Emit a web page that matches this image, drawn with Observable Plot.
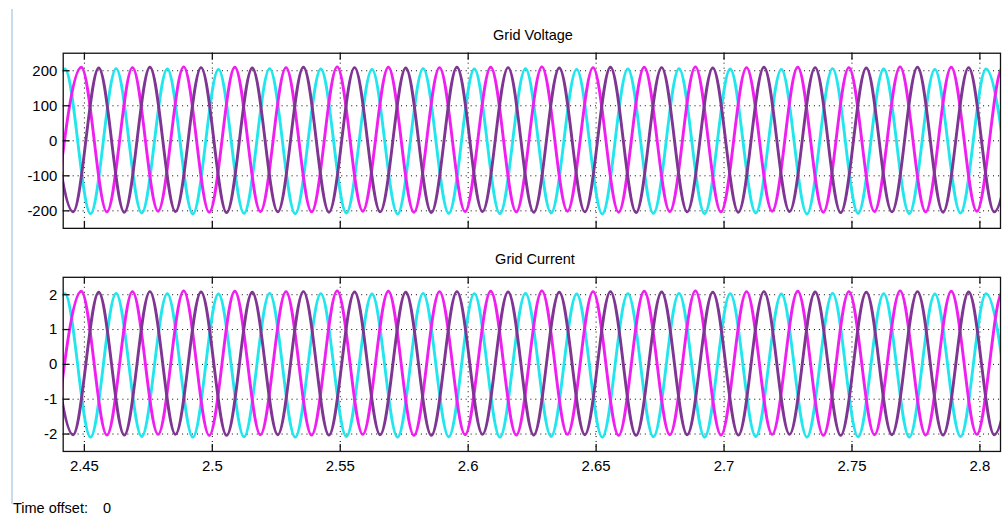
<!DOCTYPE html>
<html>
<head>
<meta charset="utf-8">
<script src="https://cdn.jsdelivr.net/npm/d3@7"></script>
<script src="https://cdn.jsdelivr.net/npm/@observablehq/plot@0.6"></script>
<style>
  html, body { margin: 0; padding: 0; background: #fff; overflow: hidden; }
  #wrap { position: relative; width: 1005px; height: 520px; overflow: hidden; background: #fff;
          font-family: "Liberation Sans", Arial, sans-serif; color: #000; }
  .panel { position: absolute; left: 0; z-index: 1; }
  .title { position: absolute; z-index: 2; font-size: 14.5px; line-height: 16px; transform: translateX(-50%); white-space: nowrap; }
  #edge { position: absolute; z-index: 2; left: 11px; top: 9px; width: 2px; height: 495px; background: #c9dcef; }
  #offset { position: absolute; z-index: 2; left: 13px; top: 500px; font-size: 14.5px; line-height: 16px; white-space: nowrap; }
</style>
</head>
<body>
<div id="wrap">
  <div id="p1" class="panel" style="top:0px;"></div>
  <div id="p2" class="panel" style="top:240px;"></div>
  <div id="edge"></div>
  <div class="title" style="left:533px; top:27px;">Grid Voltage</div>
  <div class="title" style="left:535px; top:251px;">Grid Current</div>
  <div id="offset">Time offset:<span style="margin-left:15px;">0</span></div>
</div>
<script>
// ---- data ----
const phaseNames = ["b (cyan)", "c (magenta)", "a (purple)"];
const phaseColors = ["#22e6ee", "#f01ef0", "#7f3592"];

const xTicks = [2.45, 2.5, 2.55, 2.6, 2.65, 2.7, 2.75, 2.8];
const xTickLabels = ["2.45", "2.5", "2.55", "2.6", "2.65", "2.7", "2.75", "2.8"];
const voltTicks = [-200, -100, 0, 100, 200];
const voltTickLabels = ["-200", "-100", "0", "100", "200"];
const currTicks = [-2, -1, 0, 1, 2];
const currTickLabels = ["-2", "-1", "0", "1", "2"];

// times of successive peaks / troughs of each phase (s)
const purpleT = [2.4356,2.4456,2.4556,2.4656,2.4756,2.4856,2.4956,2.5056,2.5156,2.5256,
  2.5356,2.5456,2.5556,2.5656,2.5756,2.5856,2.5956,2.6056,2.6156,2.6256,
  2.6356,2.6456,2.6556,2.6656,2.6756,2.6856,2.6956,2.7056,2.7156,2.7256,
  2.7356,2.7456,2.7556,2.7656,2.7756,2.7856,2.7956,2.8056,2.8156];
const cyanT = [2.4324,2.4424,2.4524,2.4624,2.4724,2.4824,2.4924,2.5024,2.5124,2.5224,
  2.5324,2.5424,2.5524,2.5624,2.5724,2.5824,2.5924,2.6024,2.6124,2.6224,
  2.6324,2.6424,2.6524,2.6624,2.6724,2.6824,2.6924,2.7024,2.7124,2.7224,
  2.7324,2.7424,2.7524,2.7624,2.7724,2.7824,2.7924,2.8024,2.8124];
const magentaT = [2.4388,2.4488,2.4588,2.4688,2.4788,2.4888,2.4988,2.5088,2.5188,2.5288,
  2.5388,2.5488,2.5588,2.5688,2.5788,2.5888,2.5988,2.6088,2.6188,2.6288,
  2.6388,2.6488,2.6588,2.6688,2.6788,2.6888,2.6988,2.7088,2.7188,2.7288,
  2.7388,2.7488,2.7588,2.7688,2.7788,2.7888,2.7988,2.8088,2.8188];

// grid voltage extremes (V)
const purpleV = [209,-203,208,-204,210,-202,209,-205,208,-203,210,-204,209,-203,208,-205,210,-202,209,-204,
  208,-203,210,-205,209,-203,208,-204,210,-202,209,-205,208,-203,210,-204,209,-203,208];
const cyanV = [-207,205,-208,206,-206,205,-209,204,-207,206,-208,205,-206,204,-209,206,-207,205,-208,206,
  -206,204,-209,205,-207,206,-208,205,-206,204,-209,206,-207,205,-208,204,-206,205,-209];
const magentaV = [-202,210,-203,209,-201,211,-204,210,-202,209,-203,211,-201,210,-204,209,-202,210,-203,211,
  -201,209,-204,210,-202,211,-203,209,-201,210,-204,209,-202,211,-203,210,-201,209,-204];

// grid current extremes (A)
const purpleI = [2.08,-2.02,2.07,-2.03,2.09,-2.01,2.08,-2.04,2.07,-2.02,2.09,-2.03,2.08,-2.02,2.07,-2.04,2.09,-2.01,2.08,-2.03,
  2.07,-2.02,2.09,-2.04,2.08,-2.02,2.07,-2.03,2.09,-2.01,2.08,-2.04,2.07,-2.02,2.09,-2.03,2.08,-2.02,2.07];
const cyanI = [-2.08,2.03,-2.09,2.04,-2.07,2.03,-2.09,2.02,-2.08,2.04,-2.09,2.03,-2.07,2.02,-2.09,2.04,-2.08,2.03,-2.09,2.04,
  -2.07,2.02,-2.09,2.03,-2.08,2.04,-2.09,2.03,-2.07,2.02,-2.09,2.04,-2.08,2.03,-2.09,2.02,-2.07,2.03,-2.09];
const magentaI = [-2.02,2.10,-2.03,2.09,-2.01,2.11,-2.04,2.10,-2.02,2.09,-2.03,2.11,-2.01,2.10,-2.04,2.09,-2.02,2.10,-2.03,2.11,
  -2.01,2.09,-2.04,2.10,-2.02,2.11,-2.03,2.09,-2.01,2.10,-2.04,2.09,-2.02,2.11,-2.03,2.10,-2.01,2.09,-2.04];

const xDomain = [2.44172, 2.80805];

function rowsFor(times, values) {
  return phaseNames.flatMap((name, k) =>
    times[k].map((t, i) => ({ t, v: values[k][i], phase: name })));
}

function panel({ rows, yDomain, yTicks, yLabels, tickLenY, showX, height, marginTop, marginBottom }) {
  const tickLenX = 0.00272;
  const marks = [
    Plot.gridX(xTicks, { stroke: "#000", strokeOpacity: 1, strokeDasharray: "1,4" }),
    Plot.gridY(yTicks, { stroke: "#000", strokeOpacity: 1, strokeDasharray: "1,4" }),
    Plot.line(rows, { x: "t", y: "v", z: "phase", stroke: "phase", strokeWidth: 2.9,
      curve: "monotone-x", clip: true }),
    Plot.ruleX(xTicks, { x: d => d, y1: yDomain[1], y2: yDomain[1] - tickLenY, stroke: "#111", strokeWidth: 1.3 }),
    Plot.ruleX(xTicks, { x: d => d, y1: yDomain[0], y2: yDomain[0] + tickLenY, stroke: "#111", strokeWidth: 1.3 }),
    Plot.ruleY(yTicks, { y: d => d, x1: xDomain[0], x2: xDomain[0] + tickLenX, stroke: "#111", strokeWidth: 1.3 }),
    Plot.axisY(yTicks, { tickSize: 0, tickPadding: 6, label: null, fontSize: 15, fill: "#000",
      tickFormat: d => yLabels[yTicks.indexOf(d)] }),
    Plot.frame({ stroke: "#111", strokeWidth: 1.3 })
  ];
  if (showX) {
    marks.push(Plot.axisX(xTicks, { tickSize: 0, tickPadding: 9, label: null, fontSize: 15, fill: "#000",
      tickFormat: d => xTickLabels[xTicks.indexOf(d)] }));
  }
  return Plot.plot({
    width: 1010, height, marginLeft: 63, marginRight: 5, marginTop, marginBottom,
    style: { fontFamily: "'Liberation Sans', Arial, sans-serif", fontSize: "15px", background: "transparent", color: "#000" },
    x: { type: "linear", domain: xDomain, axis: null, label: null },
    y: { domain: yDomain, axis: null, label: null },
    color: { domain: phaseNames, range: phaseColors },
    marks
  });
}

const times = [cyanT, magentaT, purpleT];

document.getElementById("p1").append(panel({
  rows: rowsFor(times, [cyanV, magentaV, purpleV]),
  yDomain: [-250, 250], yTicks: voltTicks, yLabels: voltTickLabels, tickLenY: 20,
  showX: false, height: 240, marginTop: 53, marginBottom: 11
}));
document.getElementById("p2").append(panel({
  rows: rowsFor(times, [cyanI, magentaI, purpleI]),
  yDomain: [-2.5, 2.5], yTicks: currTicks, yLabels: currTickLabels, tickLenY: 0.2,
  showX: true, height: 280, marginTop: 37, marginBottom: 68
}));
</script>
</body>
</html>
